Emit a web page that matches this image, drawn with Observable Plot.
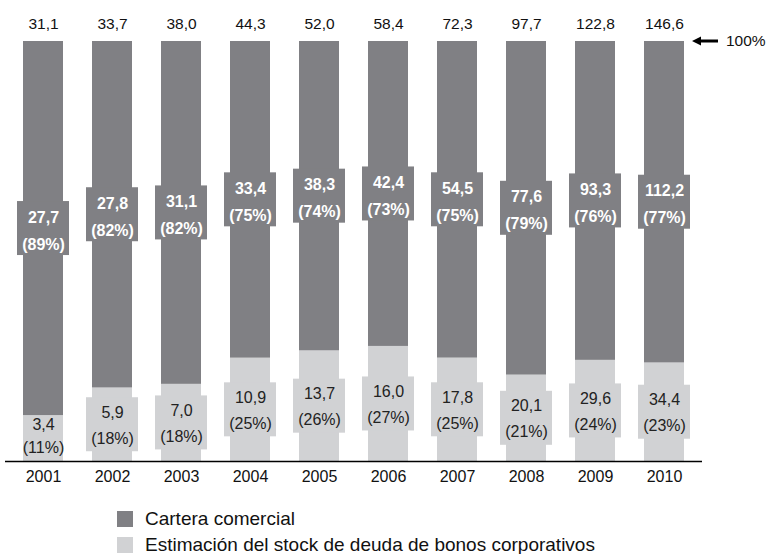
<!DOCTYPE html>
<html>
<head>
<meta charset="utf-8">
<script src="https://cdn.jsdelivr.net/npm/d3@7"></script>
<script src="https://cdn.jsdelivr.net/npm/@observablehq/plot@0.6"></script>
<style>
  body { margin: 0; background: #fff; font-family: "Liberation Sans", Arial, sans-serif; }
  #legend { padding-top: 6px; padding-left: 117px; }
  .row { display: flex; align-items: center; height: 26px; font-size: 19px; color: #111; }
  .sw { width: 16px; height: 16px; margin-right: 12px; flex: none; }
</style>
</head>
<body>
<div id="chart"></div>
<div id="legend"></div>
<script>
const years = ["2001","2002","2003","2004","2005","2006","2007","2008","2009","2010"];
const totals = [31.1, 33.7, 38.0, 44.3, 52.0, 58.4, 72.3, 97.7, 122.8, 146.6];
const cartera = [27.7, 27.8, 31.1, 33.4, 38.3, 42.4, 54.5, 77.6, 93.3, 112.2];
const bonos = [3.4, 5.9, 7.0, 10.9, 13.7, 16.0, 17.8, 20.1, 29.6, 34.4];
const carteraPct = [89, 82, 82, 75, 74, 73, 75, 79, 76, 77];
const bonosPct = [11, 18, 18, 25, 26, 27, 25, 21, 24, 23];
const series = ["Cartera comercial", "Estimación del stock de deuda de bonos corporativos"];
const colors = ["#808084", "#d1d2d4"];

const fmt = v => v.toFixed(1).replace(".", ",");

const rows = [];
years.forEach((year, i) => {
  const f = bonos[i] / (bonos[i] + cartera[i]);
  rows.push({year, series: series[1], y1: 0, y2: f, mid: f / 2, value: bonos[i], pct: bonosPct[i]});
  rows.push({year, series: series[0], y1: f, y2: 1, mid: (f + 1) / 2, value: cartera[i], pct: carteraPct[i]});
});
const totalRows = years.map((year, i) => ({year, total: totals[i]}));
const fits = d => (d.y2 - d.y1) > 0.13;
const dark = rows.filter(d => d.series === series[0]);
const light = rows.filter(d => d.series === series[1] && fits(d));
const lightSmall = rows.filter(d => d.series === series[1] && !fits(d));
// label box only where the segment is taller than the box
const boxRows = rows.filter(fits);

function arrowMark(index, scales) {
  const bw = typeof scales.x.bandwidth === "function" ? scales.x.bandwidth() : scales.x.bandwidth;
  const x0 = scales.x(years[years.length - 1]) + bw + 8;
  const y = scales.y(1);
  const g = d3.create("svg:g");
  g.append("path")
    .attr("d", `M${x0},${y}l9,-4.5v3h17v3h-17v3z`)
    .attr("fill", "#000");
  g.append("text")
    .attr("x", x0 + 34).attr("y", y).attr("dy", "0.35em")
    .attr("text-anchor", "start")
    .attr("font-size", 15.5).attr("fill", "#111")
    .text("100%");
  return g.node();
}

const plot = Plot.plot({
  width: 768,
  height: 500,
  marginTop: 41,
  marginBottom: 39,
  marginLeft: 5,
  marginRight: 66,
  style: {fontFamily: "Liberation Sans, Arial, sans-serif", fontSize: "15px", color: "#111", background: "#fff"},
  x: {domain: years, paddingInner: 0.42, paddingOuter: 0.23, label: null},
  y: {domain: [0, 1], axis: null},
  color: {domain: series, range: colors},
  marks: [
    Plot.barY(rows, {x: "year", y1: "y1", y2: "y2", fill: "series"}),
    Plot.barY(boxRows, {x: "year", y1: "mid", y2: "mid", fill: "series",
      insetLeft: -6, insetRight: -6, insetTop: -27, insetBottom: -27}),
    Plot.ruleY([0], {stroke: "#000", strokeWidth: 1.3}),
    Plot.text(dark, {x: "year", y: "mid", text: d => fmt(d.value), dy: -11, fill: "#fff", fontWeight: "bold", fontSize: 16}),
    Plot.text(dark, {x: "year", y: "mid", text: d => `(${d.pct}%)`, dy: 16, fill: "#fff", fontWeight: "bold", fontSize: 16}),
    Plot.text(light, {x: "year", y: "mid", text: d => fmt(d.value), dy: -12, fill: "#222", fontSize: 16}),
    Plot.text(light, {x: "year", y: "mid", text: d => `(${d.pct}%)`, dy: 14, fill: "#222", fontSize: 16}),
    Plot.text(lightSmall, {x: "year", y: "mid", text: d => fmt(d.value), dy: -14, fill: "#222", fontSize: 16}),
    Plot.text(lightSmall, {x: "year", y: "mid", text: d => `(${d.pct}%)`, dy: 9, fill: "#222", fontSize: 16}),
    Plot.text(totalRows, {x: "year", y: () => 1, text: d => fmt(d.total), dy: -17, fill: "#111", fontSize: 15.5}),
    Plot.axisX({tickSize: 0, tickPadding: 9, fontSize: 16, label: null}),
    arrowMark
  ]
});
document.getElementById("chart").append(plot);

const legend = document.getElementById("legend");
series.forEach((s, i) => {
  const row = document.createElement("div");
  row.className = "row";
  const sw = document.createElement("span");
  sw.className = "sw";
  sw.style.background = colors[i];
  const t = document.createElement("span");
  t.textContent = s;
  row.append(sw, t);
  legend.append(row);
});
</script>
</body>
</html>
